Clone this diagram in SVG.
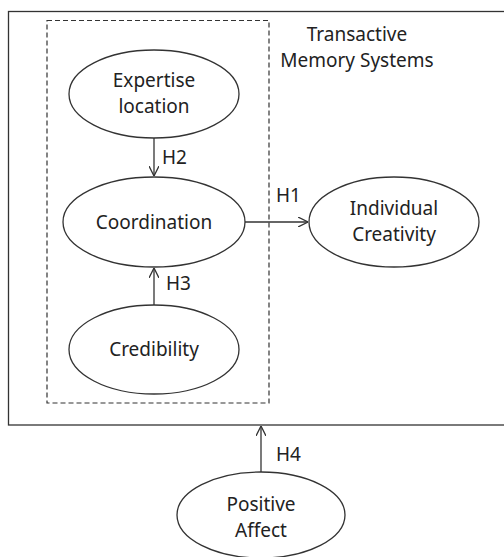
<svg xmlns="http://www.w3.org/2000/svg" width="504" height="557" viewBox="0 0 504 557">
<defs>
<style>
.n{fill:#fff;stroke:#333;stroke-width:1.3}
.t{font-family:"Noto Sans","Open Sans",sans-serif;font-size:19px;fill:#222;text-anchor:middle}
.h{font-family:"Noto Sans","Open Sans",sans-serif;font-size:19px;fill:#222}
.c{stroke:#333;stroke-width:1.3;fill:none;marker-end:url(#a)}
</style>
<marker id="a" viewBox="0 0 10 10" refX="10" refY="5" markerWidth="10" markerHeight="10" markerUnits="userSpaceOnUse" orient="auto">
<path d="M0,0 L10,5 L0,10" fill="none" stroke="#333" stroke-width="1.3"/>
</marker>
</defs>
<rect width="504" height="557" fill="#fff"/>
<g id="tms-box">
<rect x="8.5" y="11.5" width="500" height="413.5" fill="none" stroke="#333" stroke-width="1.3"/>
<rect x="47" y="20.5" width="222" height="382.5" fill="none" stroke="#333" stroke-width="1.2" stroke-dasharray="5,3"/>
<text class="t" x="357" y="41">Transactive</text>
<text class="t" x="357" y="67">Memory Systems</text>
</g>
<g id="connectors">
<line class="c" x1="154" y1="138" x2="154" y2="176"/>
<line class="c" x1="245" y1="222" x2="308" y2="222"/>
<line class="c" x1="154" y1="305" x2="154" y2="268"/>
<line class="c" x1="261" y1="472" x2="261" y2="426"/>
<text class="h" x="162" y="164">H2</text>
<text class="h" x="276" y="202">H1</text>
<text class="h" x="166" y="290">H3</text>
<text class="h" x="276" y="461">H4</text>
</g>
<g id="expertise">
<ellipse class="n" cx="154" cy="94" rx="85" ry="44"/>
<text class="t" x="154" y="87">Expertise</text>
<text class="t" x="154" y="113">location</text>
</g>
<g id="coordination">
<ellipse class="n" cx="154" cy="222" rx="91" ry="45"/>
<text class="t" x="154" y="229">Coordination</text>
</g>
<g id="creativity">
<ellipse class="n" cx="394" cy="222" rx="85" ry="45"/>
<text class="t" x="394" y="215">Individual</text>
<text class="t" x="394" y="241">Creativity</text>
</g>
<g id="credibility">
<ellipse class="n" cx="154" cy="349.5" rx="85" ry="44.5"/>
<text class="t" x="154" y="356">Credibility</text>
</g>
<g id="positive-affect">
<ellipse class="n" cx="261" cy="515" rx="84" ry="43"/>
<text class="t" x="261" y="511">Positive</text>
<text class="t" x="261" y="537">Affect</text>
</g>
</svg>
